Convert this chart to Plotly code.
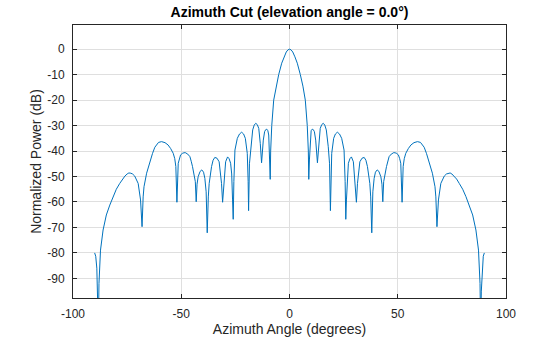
import plotly.graph_objects as go

# Azimuth cut of the normalized array pattern (elevation = 0 deg)
azimuth_deg = [
    -90.0, -89.5, -89.0, -88.6, -88.3, -88.0, -87.3, -86.1, -84.6, -83.0,
    -81.5, -80.0, -78.4, -77.2, -76.0, -75.0, -74.2, -73.3, -72.5, -71.5,
    -70.7, -69.9, -68.8, -68.1, -67.6, -67.2, -66.0, -65.2, -64.5, -63.3,
    -62.2, -61.2, -60.5, -59.1, -57.5, -56.1, -54.9, -53.7, -53.0, -52.5,
    -52.0, -51.4, -50.9, -50.3, -49.3, -48.2, -47.0, -46.0, -45.4, -44.8,
    -43.5, -43.1, -42.7, -42.2, -41.3, -40.5, -39.7, -39.1, -38.5, -38.0,
    -37.5, -37.1, -36.0, -35.3, -34.5, -33.5, -32.5, -31.4, -30.9, -30.2,
    -29.5, -28.6, -27.9, -27.2, -26.7, -26.3, -26.0, -25.7, -25.2, -24.1,
    -23.1, -22.1, -21.2, -20.4, -19.5, -19.1, -18.9, -18.5, -17.9, -17.0,
    -16.3, -15.6, -14.9, -14.2, -13.5, -12.9, -12.1, -11.5, -11.0, -10.5,
    -10.0, -9.6, -9.2, -8.9, -8.7, -8.2, -7.3, -6.2, -5.0, -3.6,
    -2.5, -1.5, -0.7, 0.0,
    0.7, 1.5, 2.5, 3.6, 5.0, 6.2, 7.3, 8.2, 8.7, 8.9,
    9.2, 9.6, 10.0, 10.5, 11.0, 11.5, 12.1, 12.9, 13.5, 14.2,
    14.9, 15.6, 16.3, 17.0, 17.9, 18.5, 18.9, 19.1, 19.5, 20.4,
    21.2, 22.1, 23.1, 24.1, 25.2, 25.7, 26.0, 26.3, 26.7, 27.2,
    27.9, 28.6, 29.5, 30.2, 30.9, 31.4, 32.5, 33.5, 34.5, 35.3,
    36.0, 37.1, 37.5, 38.0, 38.5, 39.1, 39.7, 40.5, 41.3, 42.2,
    42.7, 43.1, 43.5, 44.8, 45.4, 46.0, 47.0, 48.2, 49.3, 50.3,
    50.9, 51.4, 52.0, 52.5, 53.0, 53.7, 54.9, 56.1, 57.5, 59.1,
    60.5, 61.2, 62.2, 63.3, 64.5, 65.2, 66.0, 67.2, 67.6, 68.1,
    68.8, 69.9, 70.7, 71.5, 72.5, 73.3, 74.2, 75.0, 76.0, 77.2,
    78.4, 80.0, 81.5, 83.0, 84.6, 86.1, 87.3, 88.0, 88.3, 88.6,
    89.0, 89.5, 90.0,
]

power_db = [
    -80.0, -81.3, -86.0, -95.0, -110.0, -92.0, -78.9, -71.0, -65.1, -61.2,
    -57.9, -55.0, -52.7, -51.0, -49.8, -49.0, -48.6, -48.7, -49.0, -49.8,
    -51.0, -52.7, -59.2, -69.7, -58.0, -54.0, -48.7, -46.2, -44.2, -41.0,
    -38.5, -37.3, -36.6, -36.3, -36.7, -37.6, -39.0, -40.9, -43.0, -46.1,
    -60.1, -44.8, -43.0, -41.5, -40.8, -40.6, -41.2, -42.2, -44.0, -46.1,
    -52.0, -59.9, -53.0, -50.1, -48.0, -47.4, -48.3, -50.7, -56.0, -72.1,
    -58.0, -52.7, -46.1, -43.6, -42.5, -42.8, -44.2, -52.7, -60.1, -52.7,
    -44.2, -42.3, -43.0, -44.8, -49.0, -59.2, -66.8, -52.0, -39.6, -35.0,
    -33.3, -32.6, -33.3, -35.0, -40.9, -52.0, -63.4, -45.0, -38.3, -31.7,
    -29.8, -29.1, -29.6, -31.1, -37.0, -44.6, -35.7, -32.4, -31.6, -31.4,
    -32.0, -33.7, -43.5, -51.1, -40.0, -30.0, -20.0, -14.5, -10.0, -5.5,
    -3.0, -1.1, -0.25, 0.0,
    -0.25, -1.1, -3.0, -5.5, -10.0, -14.5, -20.0, -30.0, -40.0, -51.1,
    -43.5, -33.7, -32.0, -31.4, -31.6, -32.4, -35.7, -44.6, -37.0, -31.1,
    -29.6, -29.1, -29.8, -31.7, -38.3, -45.0, -63.4, -52.0, -40.9, -35.0,
    -33.3, -32.6, -33.3, -35.0, -39.6, -52.0, -66.8, -59.2, -49.0, -44.8,
    -43.0, -42.3, -44.2, -52.7, -60.1, -52.7, -44.2, -42.8, -42.5, -43.6,
    -46.1, -52.7, -58.0, -72.1, -56.0, -50.7, -48.3, -47.4, -48.0, -50.1,
    -53.0, -59.9, -52.0, -46.1, -44.0, -42.2, -41.2, -40.6, -40.8, -41.5,
    -43.0, -44.8, -60.1, -46.1, -43.0, -40.9, -39.0, -37.6, -36.7, -36.3,
    -36.6, -37.3, -38.5, -41.0, -44.2, -46.2, -48.7, -54.0, -58.0, -69.7,
    -59.2, -52.7, -51.0, -49.8, -49.0, -48.7, -48.6, -49.0, -49.8, -51.0,
    -52.7, -55.0, -57.9, -61.2, -65.1, -71.0, -78.9, -92.0, -110.0, -95.0,
    -86.0, -81.3, -80.0,
]

x_ticks = [-100, -50, 0, 50, 100]
y_ticks = [0, -10, -20, -30, -40, -50, -60, -70, -80, -90]

axis_color = "#262626"
grid_color = "#dfdfdf"
font_family = "Liberation Sans, Arial, sans-serif"

fig = go.Figure()
fig.add_trace(go.Scatter(
    x=azimuth_deg, y=power_db, mode="lines",
    line=dict(color="#0072BD", width=1),
    hoverinfo="x+y", showlegend=False,
))

fig.update_layout(
    width=560, height=337,
    margin=dict(l=73, r=54, t=25, b=39),
    paper_bgcolor="white", plot_bgcolor="white",
    font=dict(family=font_family, color=axis_color, size=12),
    title=dict(
        text="<b>Azimuth Cut (elevation angle = 0.0°)</b>",
        x=0.5, xref="paper", xanchor="center",
        y=1 - 12 / 337, yanchor="middle",
        font=dict(size=14, color="black", family=font_family),
    ),
)

fig.update_xaxes(
    range=[-100, 100], tickvals=x_ticks, ticktext=[str(v) for v in x_ticks],
    showgrid=True, gridcolor=grid_color, gridwidth=1, zeroline=False,
    showline=True, linecolor=axis_color, linewidth=1, mirror="ticks",
    ticks="inside", ticklen=4, tickcolor=axis_color,
    tickfont=dict(size=12, color=axis_color), ticklabelstandoff=5,
    automargin=False,
    title=dict(text="Azimuth Angle (degrees)", font=dict(size=14, color=axis_color), standoff=3),
)
fig.update_yaxes(
    range=[-97.7, 9.5], tickvals=y_ticks, ticktext=[str(v) for v in y_ticks],
    showgrid=True, gridcolor=grid_color, gridwidth=1, zeroline=False,
    showline=True, linecolor=axis_color, linewidth=1, mirror="ticks",
    ticks="inside", ticklen=4, tickcolor=axis_color,
    tickfont=dict(size=12, color=axis_color), ticklabelstandoff=5,
    automargin=False,
    title=dict(text="Normalized Power (dB)", font=dict(size=14, color=axis_color), standoff=2),
)

fig.write_html("out.html")
